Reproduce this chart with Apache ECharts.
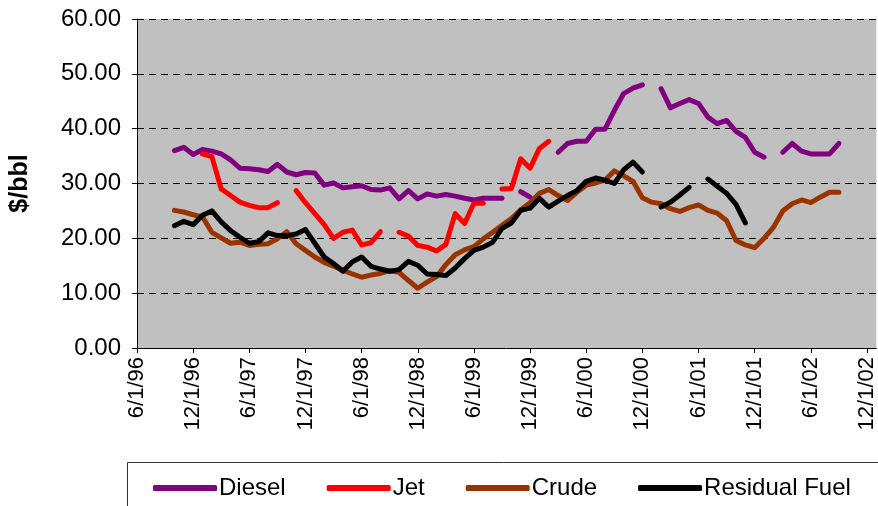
<!DOCTYPE html>
<html>
<head>
<meta charset="utf-8">
<script src="https://cdn.jsdelivr.net/npm/echarts@6/dist/echarts.min.js"></script>
<style>
  html, body { margin: 0; padding: 0; background: #fff; }
  #chart { width: 878px; height: 506px; }
</style>
</head>
<body>
<div id="chart"></div>
<script>
// monthly categories, 6/1/96 .. 1/1/03
const months = []
for (let i = 0; i < 80; i++) {
  const mo = ((5 + i) % 12) + 1
  const yr = 96 + Math.floor((5 + i) / 12)
  months.push(mo + '/1/' + String(yr % 100).padStart(2, '0'))
}

const yTickLabels = ['0.00', '10.00', '20.00', '30.00', '40.00', '50.00', '60.00']

const diesel = [
  null, null, null, null, 36.0, 36.6, 35.3, 36.2, 35.9, 35.4,
  34.3, 32.8, 32.7, 32.5, 32.2, 33.5, 32.1, 31.6, 32.0, 31.9,
  29.7, 30.1, 29.2, 29.4, 29.6, 28.9, 28.8, 29.2, 27.2, 28.7,
  27.2, 28.1, 27.7, 28.0, 27.7, 27.3, 27.0, 27.3, 27.3, 27.3,
  null, 28.5, 27.5, null, null, 35.7, 37.3, 37.7, 37.7, 39.9,
  39.9, 43.3, 46.4, 47.4, 48.0, null, 47.3, 43.8, 44.6, 45.3,
  44.6, 42.1, 40.9, 41.5, 39.5, 38.4, 35.7, 34.8, null, 35.7,
  37.3, 35.9, 35.4, 35.4, 35.4, 37.3, null, null, null, null
]

const jet = [
  null, null, null, null, null, null, null, 35.4, 34.9, 29.0,
  27.8, 26.6, 26.0, 25.6, 25.6, 26.5, null, 28.7, 26.5, 24.5,
  22.5, 20.0, 21.1, 21.5, 18.8, 19.2, 21.2, null, 21.1, 20.4,
  18.7, 18.4, 17.7, 18.9, 24.5, 22.7, 26.4, 26.4, null, 29.0,
  29.1, 34.5, 32.8, 36.4, 37.7, null, null, null, null, null,
  null, null, null, null, null, null, null, null, null, null,
  null, null, null, null, null, null, null, null, null, null,
  null, null, null, null, null, null, null, null, null, null
]

const crude = [
  null, null, null, null, 25.1, 24.8, 24.3, 23.9, 21.1, 20.1,
  19.1, 19.3, 18.7, 18.9, 19.0, 19.9, 21.2, 19.0, 17.8, 16.6,
  15.6, 14.9, 14.2, 13.5, 12.9, 13.3, 13.6, 14.1, 13.8, 12.3,
  10.9, 12.0, 13.0, 15.2, 17.0, 17.9, 18.5, 19.9, 21.1, 22.4,
  23.6, 25.2, 26.5, 28.2, 28.9, 27.8, 26.9, 28.4, 29.7, 30.1,
  30.6, 32.3, 31.4, 30.4, 27.4, 26.6, 26.3, 25.4, 24.9, 25.6,
  26.1, 25.1, 24.6, 23.2, 19.6, 18.8, 18.3, 20.0, 22.0, 25.0,
  26.3, 27.0, 26.5, 27.5, 28.4, 28.4, null, null, null, null
]

const residual = [
  null, null, null, null, 22.3, 23.1, 22.5, 24.2, 25.0, 23.0,
  21.4, 20.2, 19.1, 19.4, 21.0, 20.5, 20.5, 20.8, 21.6, 19.1,
  16.6, 15.4, 14.0, 15.7, 16.6, 14.9, 14.4, 14.0, 14.3, 15.8,
  15.1, 13.5, 13.4, 13.2, 14.6, 16.3, 17.8, 18.4, 19.3, 21.8,
  22.8, 25.1, 25.5, 27.3, 25.7, 26.8, 27.8, 28.7, 30.4, 31.0,
  30.6, 30.0, 32.5, 33.9, 32.1, null, 25.7, 26.6, 27.9, 29.3,
  null, 30.8, 29.5, 28.2, 26.2, 22.8, null, null, null, null,
  null, null, null, null, null, null, null, null, null, null
]

const chart = echarts.init(document.getElementById('chart'))

const mkLine = (name, color, data) => ({
  name,
  type: 'line',
  data,
  symbol: 'none',
  connectNulls: false,
  lineStyle: { color, width: 5, cap: 'round', join: 'round' },
  itemStyle: { color },
  emphasis: { disabled: true },
})

const option = {
  animation: false,
  textStyle: { fontFamily: 'Liberation Sans, Arial, sans-serif' },
  graphic: [
    {
      type: 'rect',
      z: 0,
      shape: { x: 127.5, y: 462.5, width: 800, height: 60 },
      style: { fill: '#fff', stroke: '#333', lineWidth: 1 },
    },
  ],
  legend: {
    data: ['Diesel', 'Jet', 'Crude', 'Residual Fuel'],
    left: 148,
    top: 471,
    icon: 'roundRect',
    itemWidth: 64,
    itemHeight: 6,
    itemGap: 41,
    textStyle: { color: '#000', fontSize: 24, padding: [0, 0, 0, -3] },
  },
  grid: {
    left: 137,
    right: 0,
    top: 19,
    bottom: 158,
    show: true,
    backgroundColor: '#C0C0C0',
    borderWidth: 0,
  },
  xAxis: {
    type: 'category',
    data: months,
    boundaryGap: false,
    axisLine: { lineStyle: { color: '#000', width: 1 } },
    axisTick: { interval: 5, length: 5, lineStyle: { color: '#000' } },
    axisLabel: {
      interval: 5,
      rotate: 90,
      margin: 9,
      color: '#000',
      fontSize: 22,
    },
    splitLine: { show: false },
  },
  yAxis: {
    type: 'value',
    min: 0,
    max: 60,
    interval: 10,
    name: '$/bbl',
    nameLocation: 'middle',
    nameRotate: 90,
    nameGap: 104,
    nameTextStyle: { color: '#000', fontSize: 25, fontWeight: 'bold' },
    axisLine: { show: true, lineStyle: { color: '#000', width: 1 } },
    axisTick: { show: true, length: 5, lineStyle: { color: '#000' } },
    axisLabel: {
      margin: 16,
      color: '#000',
      fontSize: 24,
      formatter: (v) => yTickLabels[Math.round(v / 10)],
    },
    splitLine: { lineStyle: { color: '#000', type: [7, 5], width: 1 } },
  },
  series: [
    mkLine('Diesel', '#800080', diesel),
    mkLine('Jet', '#FF0000', jet),
    mkLine('Crude', '#993300', crude),
    mkLine('Residual Fuel', '#000000', residual),
  ],
}

chart.setOption(option)
</script>
</body>
</html>
